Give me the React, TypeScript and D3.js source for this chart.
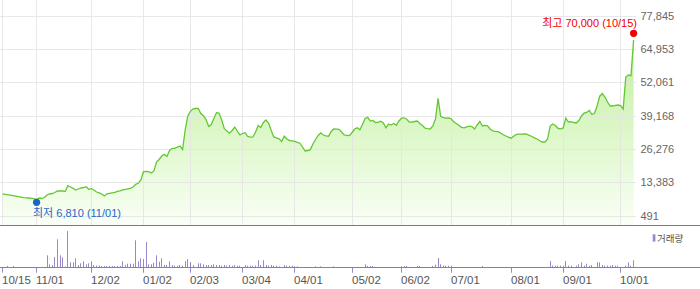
import React from 'react';
import * as d3 from 'd3';

// Daily close (10/15 .. 10/15, trading days)
const prices: number[] = [
  9000, 8850, 8690, 8540, 8340, 8150, 7960, 7760, 7570, 7530,
  7450, 7340, 7180, 6810, 7450, 7260, 7650, 8610, 9000, 9190,
  9580, 10160, 10240, 10160, 10040, 12210, 11710, 11200, 10550, 10930,
  11320, 11510, 11820, 10820, 11050, 10550, 9770, 9460, 9000, 8230,
  9080, 9270, 9460, 9660, 10040, 10240, 10550, 10820, 11010, 11200,
  11710, 12750, 13140, 14410, 17620, 17700, 17620, 17120, 17900, 21380,
  22340, 23700, 24350, 23500, 25820, 26680, 26680, 27100, 27560, 26290,
  33750, 39170, 40990, 41950, 42070, 42070, 40140, 39250, 37810, 35110,
  35880, 38200, 40440, 40330, 37620, 34260, 33370, 32520, 33560, 34910,
  33370, 31900, 32400, 32710, 31240, 30970, 31050, 32980, 35490, 34720,
  36650, 37620, 36460, 33560, 31050, 30740, 30350, 29310, 31360, 30270,
  29690, 29580, 29310, 29000, 28650, 27180, 25630, 25820, 26170, 28340,
  30080, 31630, 32670, 31820, 31510, 31360, 33170, 34140, 34060, 33990,
  32980, 31820, 31700, 31590, 32790, 34140, 34600, 33830, 35880, 38200,
  38630, 37230, 37470, 36650, 36730, 37160, 36460, 34600, 36070, 35690,
  36270, 35570, 37230, 38320, 38470, 37890, 36770, 36850, 37040, 37230,
  36270, 35490, 34450, 34260, 34140, 35300, 38010, 46010, 39050, 38510,
  38360, 38390, 38120, 36930, 36270, 35570, 34800, 34600, 34990, 35260,
  35110, 34140, 35690, 37040, 35300, 35530, 35380, 34060, 33440, 33250,
  33130, 32590, 31900, 31430, 30970, 30580, 31360, 32050, 32130, 32170,
  32210, 32170, 31700, 31240, 30740, 30270, 29580, 29110, 29110, 30270,
  35300, 36070, 35490, 34410, 34220, 34530, 38390, 36850, 36960, 36650,
  36460, 37430, 39170, 40330, 40560, 41300, 39750, 40210, 43040, 46830,
  47870, 46520, 44580, 43040, 43040, 43310, 43420, 43230, 41880, 54250,
  55030, 54760, 68600,
];

// Daily volume (relative units)
const volumes: number[] = [
  0, 0, 100, 0, 100, 0, 0, 0, 0, 0,
  0, 0, 0, 0, 0, 0, 0, 1170, 270, 200,
  1000, 2770, 1170, 970, 50, 3600, 470, 470, 870, 200,
  370, 570, 270, 370, 570, 200, 130, 130, 100, 100,
  100, 100, 100, 100, 100, 100, 570, 200, 330, 330,
  330, 2670, 570, 870, 800, 2500, 270, 270, 430, 1170,
  530, 870, 200, 200, 570, 200, 130, 130, 200, 130,
  570, 800, 500, 200, 0, 370, 370, 270, 200, 200,
  200, 270, 200, 200, 130, 200, 130, 200, 130, 200,
  130, 130, 0, 200, 130, 130, 130, 130, 670, 200,
  670, 200, 130, 200, 130, 130, 70, 0, 200, 130,
  130, 130, 70, 70, 0, 0, 0, 0, 0, 0,
  70, 0, 70, 0, 0, 0, 0, 70, 0, 0,
  0, 0, 0, 0, 0, 0, 0, 0, 0, 270,
  100, 100, 100, 0, 0, 0, 0, 0, 0, 0,
  0, 0, 0, 70, 100, 100, 0, 0, 0, 100,
  100, 0, 0, 0, 0, 100, 230, 900, 270, 130,
  130, 130, 130, 0, 0, 0, 0, 0, 0, 0,
  0, 0, 0, 0, 100, 0, 0, 0, 0, 0,
  0, 0, 0, 0, 0, 0, 0, 0, 0, 0,
  0, 0, 0, 0, 0, 0, 0, 0, 0, 0,
  600, 130, 130, 130, 130, 130, 600, 130, 130, 0,
  130, 270, 470, 130, 330, 130, 200, 0, 470, 470,
  200, 130, 130, 130, 200, 130, 130, 0, 0, 130,
  470, 130, 670,
];

const tickIndex: number[] = [0, 13, 34, 54, 72, 92, 112, 134, 153, 172, 195, 215, 237];
const tickLabels: string[] = ['10/15', '11/01', '12/02', '01/02', '02/03', '03/04', '04/01', '05/02', '06/02', '07/01', '08/01', '09/01', '10/01'];
const yTickValues: number[] = [491, 13383, 26276, 39168, 52061, 64953, 77845];

const highValue = 70000;
const highLabel = '최고 70,000 (10/15)';
const lowValue = 6810;
const lowLabel = '최저 6,810 (11/01)';
const legendLabel = '거래량';

const FONT = "'Liberation Sans', Arial, 'Noto Sans CJK KR', sans-serif";

export default function App() {
  const W = 700;
  const H = 289;
  const x = d3.scaleLinear().domain([0, prices.length - 1]).range([2.7, 633.6]);
  const y = d3.scaleLinear().domain([491, 77845]).range([216, 16]);
  const yv = d3.scaleLinear().domain([0, 3600]).range([267, 231]);
  const fmt = d3.format(',');

  const line = d3.line<number>().x((_, i) => x(i)).y((d) => y(d));
  const area = d3.area<number>().x((_, i) => x(i)).y0(225).y1((d) => y(d));

  const hiIdx = d3.maxIndex(prices);
  const loIdx = d3.minIndex(prices);
  const crisp = (v: number) => Math.floor(v) + 0.5;

  const purple = '#9a88c8';

  return (
    <svg width={W} height={H} style={{ position: 'absolute', left: 0, top: 0 }} fontFamily={FONT}>
      <defs>
        <linearGradient id="ag" gradientUnits="userSpaceOnUse" x1="0" y1="36" x2="0" y2="226">
          <stop offset="0" stopColor="#bfef9a" />
          <stop offset="1" stopColor="#fafff6" />
        </linearGradient>
      </defs>
      <rect x={0} y={0} width={W} height={H} fill="#fff" />
      <path d={area(prices) || ''} fill="url(#ag)" />
      {/* grid */}
      {yTickValues.map((v) => (
        <line key={'h' + v} x1={0} x2={636} y1={crisp(y(v))} y2={crisp(y(v))} stroke="#e4e4e4" strokeOpacity={0.85} />
      ))}
      {tickIndex.map((t) => (
        <line key={'v' + t} x1={crisp(x(t))} x2={crisp(x(t))} y1={0} y2={225} stroke="#e4e4e4" strokeOpacity={0.85} />
      ))}
      <path d={line(prices) || ''} fill="none" stroke="#62c832" strokeWidth={1.3} />
      {/* y labels */}
      {yTickValues.map((v) => (
        <text key={'yl' + v} x={640.5} y={y(v) + 3.8} fontSize={11} fill="#666">{fmt(v)}</text>
      ))}
      {/* panel border */}
      <line x1={0} x2={W} y1={225.5} y2={225.5} stroke="#7a7a7a" />
      {/* high / low markers */}
      <circle cx={x(hiIdx)} cy={y(highValue) - 3} r={3.6} fill="#f00000" />
      <text x={637} y={27} fontSize={11} fill="#ee0000" textAnchor="end">{highLabel}</text>
      <circle cx={x(loIdx)} cy={y(lowValue) + 2.7} r={3.6} fill="#1c63c9" />
      <text x={33} y={216.5} fontSize={11} fill="#1e66cc">{lowLabel}</text>
      {/* volume */}
      {volumes.map((v, i) =>
        v > 0 ? (
          <rect key={'b' + i} x={Math.floor(x(i))} y={yv(v)} width={1} height={267 - yv(v)} fill={purple} />
        ) : null
      )}
      <line x1={0} x2={W} y1={267.5} y2={267.5} stroke="#858585" />
      {tickIndex.map((t, k) => (
        <g key={'xt' + t}>
          <line x1={crisp(x(t))} x2={crisp(x(t))} y1={268} y2={272.7} stroke={purple} />
          <text x={Math.floor(x(t))} y={283.7} fontSize={11.5} fill="#555">{tickLabels[k]}</text>
        </g>
      ))}
      {/* legend */}
      <rect x={652.7} y={234.3} width={2.7} height={7.3} fill={purple} />
      <text x={657} y={242} fontSize={9.5} fill="#555">{legendLabel}</text>
    </svg>
  );
}
